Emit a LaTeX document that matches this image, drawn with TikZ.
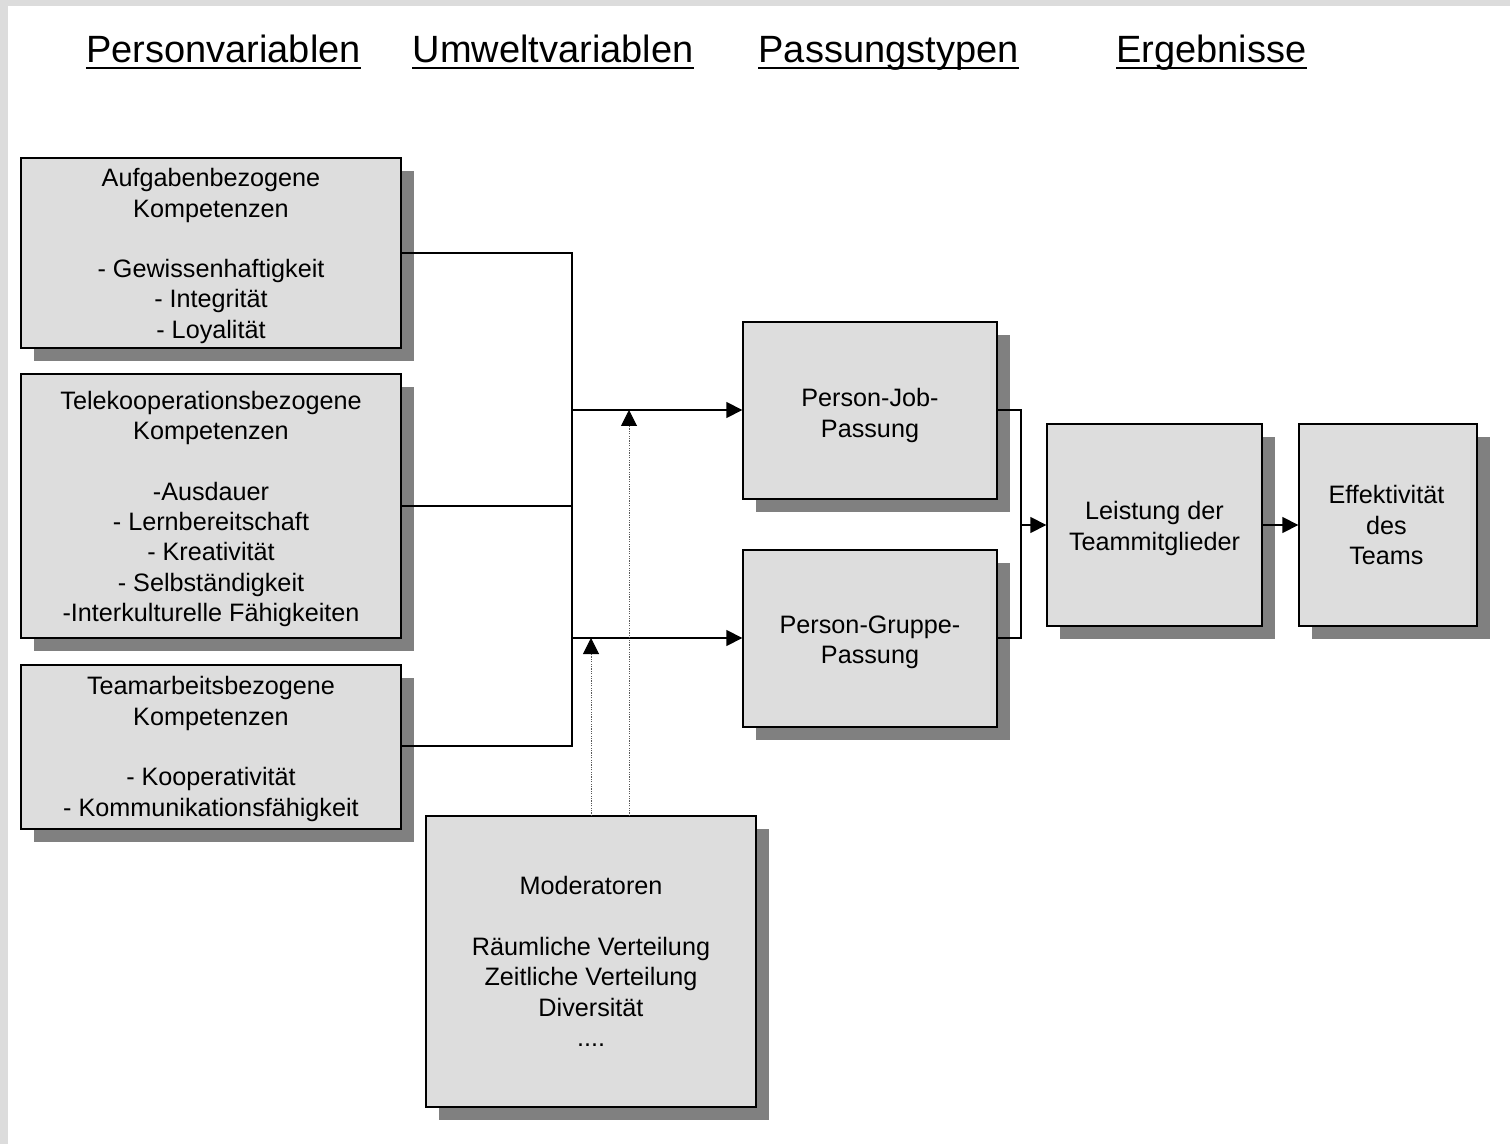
\documentclass[tikz,border=0pt]{standalone}
\usepackage{fontspec}
\setmainfont{Liberation Sans}
\usetikzlibrary{arrows.meta,shadows}
\definecolor{boxgray}{HTML}{DDDDDD}
\definecolor{shadowgray}{HTML}{808080}
\definecolor{framegray}{HTML}{DCDCDC}
\newcommand{\bodyfont}{\fontsize{12.6}{15.15}\selectfont}
\newcommand{\titlefont}{\fontsize{19}{22}\selectfont}
\begin{document}
\begin{tikzpicture}[x=0.5pt,y=-0.5pt,
  box/.style={draw=black, line width=0.7pt, fill=boxgray, inner sep=0pt,
    drop shadow={shadow xshift=6.5pt, shadow yshift=-6.5pt, fill=shadowgray, opacity=1}},
  lab/.style={align=center, font=\bodyfont, inner sep=0pt},
  heading/.style={inner sep=0pt, anchor=base, font=\titlefont},
  uline/.style={line width=1.1pt},
  conn/.style={line width=0.8pt},
  arr/.style={conn, -{Triangle[length=8pt,width=8pt]}},
  dotarr/.style={line width=0.5pt, black!65, dash pattern=on 0.6pt off 0.6pt, -{Triangle[length=8pt,width=8pt,color=black]}}]
\useasboundingbox (0,0) rectangle (1510,1144);
\fill[framegray] (0,0) rectangle (1510,1144);
\fill[white] (8,6) rectangle (1510,1144);

% headings
\node[heading] (h1) at (223.5,63) {Personvariablen};
\node[heading] (h2) at (553,63) {Umweltvariablen};
\node[heading] (h3) at (888.5,63) {Passungstypen};
\node[heading] (h4) at (1211.5,63) {Ergebnisse};
\foreach \h in {h1,h2,h3,h4}
  \draw[uline] ([yshift=-2.6pt]\h.base west) -- ([yshift=-2.6pt]\h.base east);

% boxes
\node[box, minimum width=190pt, minimum height=95pt,
  label={[lab, yshift=-1.5pt]center:{Aufgabenbezogene\\Kompetenzen\\[15.15pt]- Gewissenhaftigkeit\\- Integrität\\- Loyalität}}]
  (A) at (211,253) {};
\node[box, minimum width=190pt, minimum height=132pt,
  label={[lab, yshift=-1.5pt]center:{Telekooperationsbezogene\\Kompetenzen\\[15.15pt]-Ausdauer\\- Lernbereitschaft\\- Kreativität\\- Selbständigkeit\\-Interkulturelle Fähigkeiten}}]
  (T) at (211,506) {};
\node[box, minimum width=190pt, minimum height=82pt,
  label={[lab, yshift=-1pt]center:{Teamarbeitsbezogene\\Kompetenzen\\[15.15pt]- Kooperativität\\- Kommunikationsfähigkeit}}]
  (Team) at (211,747) {};
\node[box, minimum width=127pt, minimum height=88.5pt,
  label={[lab, yshift=-2.5pt]center:{Person-Job-\\Passung}}]
  (PJ) at (870,410.5) {};
\node[box, minimum width=127pt, minimum height=88.5pt,
  label={[lab, yshift=-2pt]center:{Person-Gruppe-\\Passung}}]
  (PG) at (870,638.5) {};
\node[box, minimum width=107.5pt, minimum height=101pt,
  label={[lab, yshift=-1.8pt]center:{Leistung der\\Teammitglieder}}]
  (L) at (1154.5,525) {};
\node[box, minimum width=89pt, minimum height=101pt,
  label={[lab, xshift=-0.8pt]center:{Effektivität\\des\\Teams}}]
  (E) at (1388,525) {};
\node[box, minimum width=165pt, minimum height=145.5pt,
  label={[lab]center:{Moderatoren\\[15.15pt]Räumliche Verteilung\\Zeitliche Verteilung\\Diversität\\....}}]
  (M) at (591,961.5) {};

% junction coordinates
\coordinate (jA) at (572,253);
\coordinate (jT) at (572,506);
\coordinate (jTeam) at (572,746);
\coordinate (jPJ) at (572,410);
\coordinate (jPG) at (572,638);
\coordinate (m1) at (629,816);
\coordinate (m2) at (591,816);
\coordinate (k1) at (1021,410);
\coordinate (k2) at (1021,638);
\coordinate (kL) at (1021,525);

% connectors
\draw[conn] (A.east |- jA) -- (jA) -- (jTeam) -- (Team.east |- jTeam);
\draw[conn] (T.east) -- (jT);
\draw[arr] (jPJ) -- (jPJ -| PJ.west);
\draw[arr] (jPG) -- (jPG -| PG.west);
\draw[dotarr] (m1) -- (m1 |- jPJ);
\draw[dotarr] (m2) -- (m2 |- jPG);
\draw[conn] (k1 -| PJ.east) -- (k1) -- (k2) -- (k2 -| PG.east);
\draw[arr] (kL) -- (kL -| L.west);
\draw[arr] (L.east) -- (E.west);
\end{tikzpicture}
\end{document}
